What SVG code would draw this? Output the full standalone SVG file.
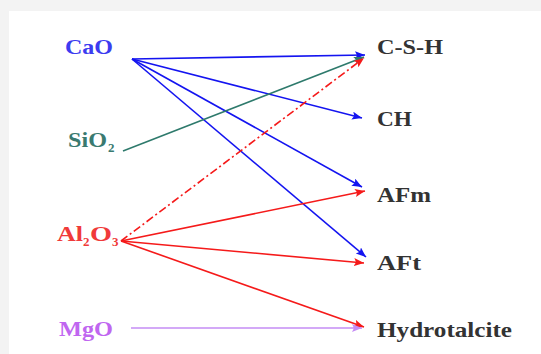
<svg xmlns="http://www.w3.org/2000/svg" width="541" height="354" viewBox="0 0 541 354">
<style>
.lbl{font-family:"Liberation Serif","Times New Roman",serif;font-weight:bold;font-size:21px;}
.sub{font-size:13px;}
.out{fill:#333333;}
.e{fill:none;stroke-width:1.6;}
.blue{stroke:#1414f0;}
.green{stroke:#2e7a6c;}
.red{stroke:#f51a1a;}
.violet{stroke:#c58cf5;stroke-width:1.3;}
</style>
<defs>
<marker id="aB" markerUnits="userSpaceOnUse" markerWidth="11" markerHeight="9" refX="10" refY="4" orient="auto"><path d="M0,0 L10,4 L0,8 L2,4 z" fill="#1414f0"/></marker>
<marker id="aG" markerUnits="userSpaceOnUse" markerWidth="11" markerHeight="9" refX="10" refY="4" orient="auto"><path d="M0,0 L10,4 L0,8 L2,4 z" fill="#2e7a6c"/></marker>
<marker id="aR" markerUnits="userSpaceOnUse" markerWidth="11" markerHeight="9" refX="10" refY="4" orient="auto"><path d="M0,0 L10,4 L0,8 L2,4 z" fill="#f51a1a"/></marker>
<marker id="aV" markerUnits="userSpaceOnUse" markerWidth="11" markerHeight="9" refX="10" refY="4" orient="auto"><path d="M0,0 L10,4 L0,8 L2,4 z" fill="#c58cf5"/></marker>
</defs>
<rect x="0" y="0" width="541" height="354" fill="#f3f3f3"/>
<rect x="9" y="11" width="532" height="343" fill="#ffffff"/>
<g id="connectors">
<line class="e blue" x1="132" y1="59" x2="365" y2="55" marker-end="url(#aB)"/>
<line class="e blue" x1="132" y1="59" x2="362" y2="118" marker-end="url(#aB)"/>
<line class="e blue" x1="132" y1="59" x2="362" y2="187" marker-end="url(#aB)"/>
<line class="e blue" x1="132" y1="59" x2="366" y2="257" marker-end="url(#aB)"/>
<line class="e green" x1="123" y1="151" x2="364" y2="57" marker-end="url(#aG)"/>
<line class="e red" x1="121" y1="241" x2="364" y2="58" stroke-dasharray="8,3,2,3" marker-end="url(#aR)"/>
<line class="e red" x1="121" y1="241" x2="365" y2="191" marker-end="url(#aR)"/>
<line class="e red" x1="121" y1="241" x2="364" y2="263" marker-end="url(#aR)"/>
<line class="e red" x1="121" y1="241" x2="364" y2="327" marker-end="url(#aR)"/>
<line class="e violet" x1="131" y1="328" x2="362" y2="328" marker-end="url(#aV)"/>
</g>
<g id="CaO"><text class="lbl" x="65" y="54" fill="#3c3cf0" textLength="48" lengthAdjust="spacingAndGlyphs">CaO</text></g>
<g id="SiO2"><text class="lbl" y="147" fill="#3a7a70"><tspan x="68" textLength="39" lengthAdjust="spacingAndGlyphs">SiO</tspan><tspan class="sub" x="108" y="152">2</tspan></text></g>
<g id="Al2O3"><text class="lbl" y="241" fill="#f03a3a"><tspan x="57" textLength="26" lengthAdjust="spacingAndGlyphs">Al</tspan><tspan class="sub" x="83" y="246">2</tspan><tspan x="90" y="241" textLength="22" lengthAdjust="spacingAndGlyphs">O</tspan><tspan class="sub" x="112" y="246">3</tspan></text></g>
<g id="MgO"><text class="lbl" x="59" y="336" fill="#c066f0" textLength="54" lengthAdjust="spacingAndGlyphs">MgO</text></g>
<g id="CSH"><text class="lbl out" x="377" y="54" textLength="66" lengthAdjust="spacingAndGlyphs">C-S-H</text></g>
<g id="CH"><text class="lbl out" x="377" y="126" textLength="35" lengthAdjust="spacingAndGlyphs">CH</text></g>
<g id="AFm"><text class="lbl out" x="377" y="202" textLength="54" lengthAdjust="spacingAndGlyphs">AFm</text></g>
<g id="AFt"><text class="lbl out" x="377" y="270" textLength="44" lengthAdjust="spacingAndGlyphs">AFt</text></g>
<g id="Hydrotalcite"><text class="lbl out" x="377" y="337" textLength="135" lengthAdjust="spacingAndGlyphs">Hydrotalcite</text></g>
</svg>
